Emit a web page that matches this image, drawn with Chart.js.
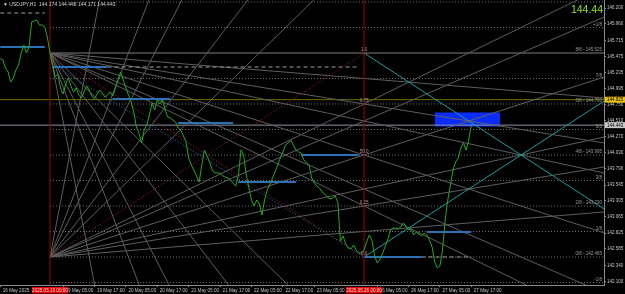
<!DOCTYPE html>
<html><head><meta charset="utf-8">
<script src="https://cdn.jsdelivr.net/npm/chart.js@4.4.1/dist/chart.umd.min.js"></script>
<style>html,body{margin:0;padding:0;background:#000;overflow:hidden}canvas{display:block}</style>
</head><body>
<canvas id="c" width="625" height="294"></canvas>
<script>
// ---- DATA ----
const symbolTitle = "\u25BC USDJPY,H1  144.174 144.448 144.171 144.443";
const lastPriceText = "144.44";
// H1 closes, bar 0 = 16 May 2025 05:00 (weekend hours skipped)
const closes = [
 145.44,145.42,145.30,145.24,145.09,145.15,145.27,145.345,145.525,145.645,
 145.525,145.615,145.99,146.005,146.02,145.945,145.945,145.915,145.765,145.525,
 145.36,145.165,145.21,145.0,144.91,145.06,145.15,145.03,144.94,145.0,
 144.895,144.85,144.94,145.03,144.97,144.88,144.835,144.91,144.97,144.925,
 144.865,144.895,144.94,144.88,145.0,145.12,145.24,145.12,145.0,144.895,
 144.79,144.64,144.415,144.325,144.175,144.37,144.445,144.595,144.775,144.67,
 144.82,144.76,144.82,144.67,144.565,144.55,144.52,144.49,144.40,144.37,
 144.28,144.19,143.95,143.845,143.77,143.68,143.59,143.845,144.07,143.98,
 143.89,143.77,143.725,143.725,143.725,143.68,143.665,143.65,143.62,143.575,
 143.53,143.695,144.07,143.995,143.695,143.50,143.32,143.23,143.32,143.26,
 143.095,143.32,143.47,143.545,143.65,143.74,143.845,143.95,144.04,144.145,
 144.175,144.22,144.145,144.07,144.04,144.025,143.92,143.875,143.845,143.65,
 143.575,143.53,143.50,143.44,143.41,143.365,143.335,143.35,143.38,143.28,
 142.70,142.78,142.66,142.60,142.585,142.645,142.57,142.525,142.525,142.57,
 142.69,142.795,142.72,142.495,142.375,142.42,142.51,142.615,142.72,142.855,
 142.90,142.90,142.885,142.915,142.975,142.93,142.87,142.885,142.795,142.84,
 142.81,142.78,142.825,142.795,142.72,142.615,142.39,142.30,142.33,142.57,
 143.02,143.32,143.545,143.77,143.89,143.95,144.10,144.175,144.07,144.22,
 144.443
];
const xTickBars   = [0,24,36,48,60,72,84,96,108,120,144,156,168,180];
const xTickLabels = ["16 May 2025","19 May 05:00","19 May 17:00","20 May 05:00","20 May 17:00",
  "21 May 05:00","21 May 17:00","22 May 05:00","22 May 17:00","23 May 05:00",
  "26 May 05:00","26 May 17:00","27 May 05:00","27 May 17:00"];
const yTicks = [146.200,145.960,145.715,145.475,145.235,144.995,144.750,144.510,144.270,
  144.030,143.790,143.545,143.305,143.065,142.825,142.585,142.340,142.100];
const markerBars   = [19,139];
const markerLabels = ["2025.05.19 00:00","2025.05.26 00:00"];

// Gann fans
const fanHigh = 145.525, fanLow = 142.465;
const fanStartBar = 19, cornerBar = 139, fanEndBar = 231;
const fanRatioNames = ["1x8","1x4","1x3","1x2","2x3","3x4","3x2","2x1","3x1","4x1","8x1"];
const fanUpEnds   = [143.141,143.817,144.267,145.168,146.069,146.520,150.574,153.277,158.683,164.089,185.713];
const fanDownEnds = [144.849,144.174,143.723,142.822,141.921,141.471,137.416,134.713,129.307,123.901,102.277];
const cornerFanEnds = [143.179,144.811]; // 1x1 from right corners (high, low)
const trendStart = [21,145.33], trendEnd = [139,142.47];

// Murrey levels
const murreyLevels = [146.29,145.9075,145.525,145.1425,144.76,144.3775,143.995,143.6125,143.23,142.8475,142.465,142.0825];
const murreyLabels = ["+2/8 - 146.290","+1/8","8/8 - 145.525","7/8","6/8 - 144.760","5/8",
  "4/8 - 143.995","3/8","2/8 - 143.230","1/8","0/8 - 142.465","-1/8"];
const gannLevelPrices = [145.525,144.76,143.995,143.23,142.465];
const gannLevelLabels = ["1.0","0.75","50.0","0.25","0.0"];

// horizontal segments
const blueSegStart = [0,20,43,68,91,115,139,163];
const blueSegEnd   = [17,41,65,89,113,137,161,180];
const blueSegPrice = [145.615,145.315,144.835,144.475,143.59,143.995,142.465,142.84];
const dashSegStart = [0,41,161];
const dashSegEnd   = [17,137,180];
const dashSegPrice = [146.125,145.315,142.465];

const boxBars = [166,191];
const boxPrices = [144.625,144.43];
const bidPrice = 144.443;
const linePrice = 144.825;
const linePriceText = "144.825";

// ---- BUILD ----
const ds = [];
function seg(x1,y1,x2,y2,color,width,dash,order){
  ds.push({data:[{x:x1,y:y1},{x:x2,y:y2}],borderColor:color,borderWidth:width,
    borderDash:dash||[],pointRadius:0,fill:false,order:order});
}
ds.push({data:closes.map((v,i)=>({x:i,y:v})),borderColor:'#22a822',borderWidth:1,pointRadius:0,fill:false,order:0});
// box
ds.push({data:[{x:boxBars[0],y:boxPrices[0]},{x:boxBars[1],y:boxPrices[0]}],borderColor:'#0b2cff',backgroundColor:'#0b2cff',borderWidth:1,pointRadius:0,fill:'+1',order:30});
ds.push({data:[{x:boxBars[0],y:boxPrices[1]},{x:boxBars[1],y:boxPrices[1]}],borderColor:'#0b2cff',borderWidth:1,pointRadius:0,fill:false,order:30});
// murrey
murreyLevels.forEach((p,k)=>{
  if (k===2) seg(fanStartBar,p,fanEndBar,p,'#7e7e7e',1,[],8);
  else seg(fanStartBar,p,fanEndBar,p,'#707070',1,[1,2],8);
});
// fans
fanUpEnds.forEach(e=>seg(fanStartBar,fanLow,fanEndBar,e,'#5e5e5e',1,[],6));
fanDownEnds.forEach(e=>seg(fanStartBar,fanHigh,fanEndBar,e,'#5e5e5e',1,[],6));
seg(fanStartBar,fanHigh,cornerBar,fanLow,'#b01a1a',1,[1,2],4);
seg(fanStartBar,fanLow,cornerBar,fanHigh,'#b01a1a',1,[1,2],4);
seg(trendStart[0],trendStart[1],trendEnd[0],trendEnd[1],'#2f70c4',1,[1,2],4);
seg(cornerBar,fanHigh,fanEndBar,cornerFanEnds[0],'#189c9c',1,[],3);
seg(cornerBar,fanLow,fanEndBar,cornerFanEnds[1],'#189c9c',1,[],3);
// lines across
seg(-1,bidPrice,fanEndBar,bidPrice,'#8a94a4',1,[],7);
seg(-1,linePrice,fanEndBar,linePrice,'#6f6f00',1,[],7);
blueSegPrice.forEach((p,k)=>seg(blueSegStart[k],p,blueSegEnd[k],p,'#2d70b3',2,[],2));
dashSegPrice.forEach((p,k)=>seg(dashSegStart[k],p,dashSegEnd[k],p,'#9c9c9c',1,[4,3],2));
markerBars.forEach(b=>seg(b,141.5,b,147,'#a00000',1,[],1));

const FONT = '"Liberation Sans", Arial, sans-serif';
const overlay = {
  id:'overlay',
  afterDatasetsDraw(chart){
    const ctx=chart.ctx, X=chart.scales.x, Y=chart.scales.y, ca=chart.chartArea;
    ctx.save();
    ctx.font='4.5px '+FONT; ctx.fillStyle='#9c9c9c';
    ctx.textAlign='right'; ctx.textBaseline='bottom';
    murreyLevels.forEach((p,k)=>ctx.fillText(murreyLabels[k],ca.right-2,Y.getPixelForValue(p)-0.5));
    ctx.textAlign='center';
    gannLevelPrices.forEach((p,k)=>ctx.fillText(gannLevelLabels[k],X.getPixelForValue(cornerBar),Y.getPixelForValue(p)-1));
    ctx.restore();
  },
  afterDraw(chart){
    const ctx=chart.ctx, X=chart.scales.x, Y=chart.scales.y, ca=chart.chartArea;
    ctx.save();
    function axisBox(price,text,bg,fg){
      const y=Y.getPixelForValue(price);
      ctx.fillStyle=bg; ctx.fillRect(ca.right+1,y-3,20,6);
      ctx.fillStyle=fg; ctx.font='4.5px '+FONT; ctx.textAlign='left'; ctx.textBaseline='middle';
      ctx.fillText(text,ca.right+3,y+0.3);
    }
    axisBox(linePrice,linePriceText,'#e8c000','#000');
    axisBox(bidPrice,bidPrice.toFixed(3),'#c8c8c8','#000');
    markerBars.forEach((b,k)=>{
      const x=X.getPixelForValue(b);
      ctx.fillStyle='#e00000'; ctx.fillRect(x-18,ca.bottom+2,36,6.5);
      ctx.fillStyle='#ffd0d0'; ctx.font='4.6px '+FONT; ctx.textAlign='center'; ctx.textBaseline='middle';
      ctx.fillText(markerLabels[k],x,ca.bottom+5.3);
    });
    ctx.font='5px '+FONT; ctx.fillStyle='#d0d0d0'; ctx.textAlign='left'; ctx.textBaseline='middle';
    ctx.fillText(symbolTitle,ca.left+3,ca.top+4.5);
    ctx.font='10.5px '+FONT; ctx.fillStyle='#8fe32a'; ctx.textAlign='right'; ctx.textBaseline='alphabetic';
    ctx.fillText(lastPriceText,ca.right-1,ca.top+13);
    ctx.restore();
  }
};

new Chart(document.getElementById('c'),{
  type:'line',
  data:{datasets:ds},
  plugins:[overlay],
  options:{
    responsive:false, animation:false, devicePixelRatio:1, events:[],
    layout:{padding:0},
    plugins:{legend:{display:false},tooltip:{enabled:false}},
    elements:{line:{tension:0}},
    scales:{
      x:{type:'linear',min:-0.1,max:230.7,
        grid:{display:true,drawOnChartArea:false,drawTicks:true,tickLength:2,color:'#8a8a8a'},
        border:{display:true,color:'#8a8a8a'},
        ticks:{autoSkip:false,maxRotation:0,minRotation:0,align:'start',padding:1,labelOffset:2.5,color:'#c4c4c4',
          font:{family:FONT,size:4.6,lineHeight:1},
          callback:(v,i)=>xTickLabels[i]},
        afterBuildTicks:s=>{s.ticks=xTickBars.map(v=>({value:v}));},
        afterFit:s=>{s.height=9;s.paddingLeft=0;s.paddingRight=0;}
      },
      y:{type:'linear',position:'right',min:142.045,max:146.32,
        grid:{display:true,drawOnChartArea:false,drawTicks:true,tickLength:2,color:'#8a8a8a'},
        border:{display:true,color:'#8a8a8a'},
        ticks:{autoSkip:false,padding:1,color:'#c4c4c4',font:{family:FONT,size:4.5,lineHeight:1},
          callback:v=>Number(v).toFixed(3)},
        afterBuildTicks:s=>{s.ticks=yTicks.map(v=>({value:v}));},
        afterFit:s=>{s.width=21;s.paddingTop=0;s.paddingBottom=0;}
      }
    }
  }
});
</script>
</body></html>
